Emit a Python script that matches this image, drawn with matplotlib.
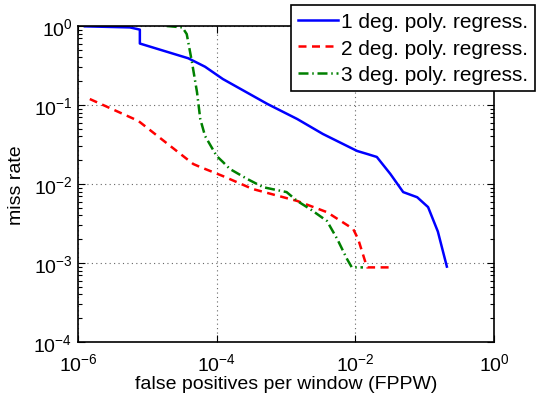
import matplotlib
matplotlib.use("Agg")
import matplotlib.pyplot as plt
import numpy as np
from matplotlib.ticker import LogLocator, NullFormatter, NullLocator

plt.rcParams['font.family'] = ['Liberation Sans', 'DejaVu Sans']
plt.rcParams['mathtext.fontset'] = 'custom'
plt.rcParams['mathtext.rm'] = 'Liberation Sans'
plt.rcParams['mathtext.it'] = 'Liberation Sans:italic'
plt.rcParams['mathtext.bf'] = 'Liberation Sans:bold'
plt.rcParams['mathtext.sf'] = 'Liberation Sans'
plt.rcParams['mathtext.default'] = 'regular'

fppw_1 = [1.26e-6, 5.6e-6, 7.8e-6, 7.8e-6, 3.9e-5, 6.8e-5, 1.23e-4, 5.4e-4, 1.45e-3, 3.4e-3,
          1.06e-2, 1.48e-2, 2.04e-2, 3.2e-2, 4.9e-2, 7.8e-2, 0.112, 0.155, 0.209]
miss_1 = [0.99, 0.96, 0.9, 0.60, 0.39, 0.305, 0.213, 0.103, 0.0665, 0.043,
          0.0262, 0.024, 0.022, 0.0134, 0.0079, 0.0068, 0.0051, 0.0025, 0.0009]

fppw_2 = [1.48e-6, 7.4e-6, 4.6e-5, 5.8e-5, 1.23e-4, 3.3e-4, 1.45e-3, 3.9e-3, 9.3e-3,
          1.1e-2, 1.38e-2, 1.48e-2, 3.4e-2]
miss_2 = [0.119, 0.063, 0.0179, 0.0164, 0.0126, 0.00865, 0.0061, 0.0044, 0.0027,
          0.0020, 0.00106, 0.00088, 0.00088]

fppw_3 = [1.9e-5, 3.2e-5, 3.7e-5, 4.4e-5, 5.2e-5, 5.8e-5, 6.8e-5, 1.0e-4, 1.23e-4, 1.55e-4,
          2.75e-4, 4.7e-4, 1.02e-3, 1.45e-3, 2.24e-3, 3.9e-3, 5.5e-3, 7.6e-3, 8.9e-3, 1.29e-2]
miss_3 = [1.0, 0.96, 0.79, 0.35, 0.146, 0.0665, 0.0405, 0.0226, 0.019, 0.0155,
          0.0116, 0.0091, 0.0079, 0.0061, 0.0048, 0.0034, 0.0020, 0.00112, 0.00088, 0.00088]

labels = ['1 deg. poly. regress.', '2 deg. poly. regress.', '3 deg. poly. regress.']

fig = plt.figure(figsize=(5.39, 4.02), dpi=100)
ax = fig.add_axes([78/539, 1 - 343/402, (494-78)/539, (343-27)/402])

ax.plot(fppw_1, miss_1, color='#0000ff', lw=1.8, linestyle='-', label=labels[0])
ax.plot(fppw_2, miss_2, color='#ff0000', lw=1.8, linestyle=(0, (3.2, 2.2)), label=labels[1])
ax.plot(fppw_3, miss_3, color='#008000', lw=1.8, linestyle=(0, (4, 1.5, 0.6, 1.5)), label=labels[2])

ax.set_xscale('log')
ax.set_yscale('log')
ax.set_xlim(1e-6, 1)
ax.set_ylim(1e-4, 1)
ax.set_xticks([1e-6, 1e-4, 1e-2, 1])
ax.set_yticks([1e-4, 1e-3, 1e-2, 1e-1, 1])
ax.xaxis.set_minor_locator(NullLocator())
ax.yaxis.set_minor_locator(LogLocator(base=10, subs=np.arange(2, 10), numticks=20))
ax.yaxis.set_minor_formatter(NullFormatter())
ax.grid(True, which='major', linestyle=(0, (1, 3)), color='#666666', lw=0.8)
ax.tick_params(which='both', direction='in', top=True, right=True, labelsize=14, width=0.8)
ax.tick_params(which='major', length=5)
ax.tick_params(which='minor', length=3)
ax.tick_params(axis='x', pad=7)
ax.tick_params(axis='y', pad=4)
for s in ax.spines.values():
    s.set_linewidth(1.2)

ax.set_xlabel('false positives per window (FPPW)', fontsize=14, labelpad=1)
ax.set_ylabel('miss rate', fontsize=14, labelpad=6)

leg = fig.legend(loc='upper left', bbox_to_anchor=(291/539, 1 - 6/402), fontsize=15,
                 frameon=True, fancybox=False, edgecolor='black', framealpha=1,
                 handlelength=1.9, handletextpad=0.15, borderpad=0.35, labelspacing=0.35,
                 borderaxespad=0)
leg.get_frame().set_linewidth(1.2)

fig.savefig('out.png', dpi=100)
